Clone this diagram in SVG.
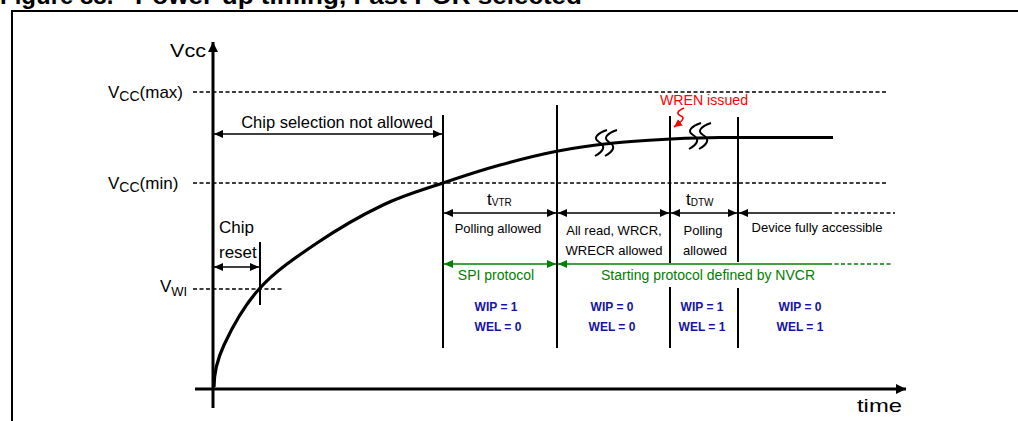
<svg xmlns="http://www.w3.org/2000/svg" width="1018" height="421" viewBox="0 0 1018 421">
<style>
text{font-family:"Liberation Sans",Arial,sans-serif;fill:#000}
.dash{stroke:#000;stroke-width:1.5;stroke-dasharray:4,2.5;fill:none}
.gdash{stroke:#008000;stroke-width:1.5;stroke-dasharray:4,2.5;fill:none}
.vl{stroke:#000;stroke-width:2;fill:none}
.ar{stroke:#000;stroke-width:1.6;fill:none;marker-start:url(#ah);marker-end:url(#ah)}
.gar{stroke:#008000;stroke-width:1.6;fill:none;marker-start:url(#gh);marker-end:url(#gh)}
.lbl{font-size:13px}
.grn{font-size:14px;fill:#008000}
.blu{font-size:12px;font-weight:bold;fill:#1414a0}
.sq{stroke:#000;stroke-width:2;fill:none}
</style>
<defs>
<marker id="ah" markerUnits="userSpaceOnUse" markerWidth="10" markerHeight="10" refX="9" refY="4" orient="auto-start-reverse"><path d="M0,0 L9,4 L0,8 z" fill="#000"/></marker>
<marker id="gh" markerUnits="userSpaceOnUse" markerWidth="10" markerHeight="10" refX="9" refY="4" orient="auto-start-reverse"><path d="M0,0 L9,4 L0,8 z" fill="#008000"/></marker>
<marker id="rh" markerUnits="userSpaceOnUse" markerWidth="10" markerHeight="10" refX="8" refY="4" orient="auto"><path d="M0,0 L8,4 L0,8 z" fill="#ff0000"/></marker>
<marker id="axh" markerUnits="userSpaceOnUse" markerWidth="12" markerHeight="12" refX="10" refY="5" orient="auto"><path d="M0,0 L10,5 L0,10 z" fill="#000"/></marker>
</defs>
<rect width="1018" height="421" fill="#fff"/>
<g id="title">
<text x="0" y="4" font-size="24" font-weight="bold">Figure 88.</text>
<text x="135" y="4" font-size="24" font-weight="bold" textLength="447" lengthAdjust="spacingAndGlyphs">Power-up timing, Fast POR selected</text>
</g>
<path d="M1020,11 H12 V423" fill="none" stroke="#000" stroke-width="2"/>
<g id="axes">
<line x1="213" y1="408" x2="213" y2="42" stroke="#000" stroke-width="3" marker-end="url(#axh)"/>
<line x1="195" y1="389" x2="906" y2="389" stroke="#000" stroke-width="3" marker-end="url(#axh)"/>
<text x="170" y="57" font-size="19" textLength="36" lengthAdjust="spacingAndGlyphs">Vcc</text>
<text x="857" y="412" font-size="19" textLength="45" lengthAdjust="spacingAndGlyphs">time</text>
</g>
<g id="levels">
<line class="dash" x1="193" y1="92" x2="888" y2="92"/>
<line class="dash" x1="193" y1="183" x2="888" y2="183"/>
<line class="dash" x1="193" y1="289" x2="283" y2="289"/>
<text x="108" y="98" font-size="17">V<tspan dy="3" font-size="14">CC</tspan><tspan dy="-3">(max)</tspan></text>
<text x="108" y="189" font-size="17">V<tspan dy="3" font-size="14">CC</tspan><tspan dy="-3">(min)</tspan></text>
<text x="160" y="292" font-size="17">V<tspan dy="4" font-size="13">WI</tspan></text>
</g>
<g id="curve">
<path d="M214,387 C214,375 216.3,361.5 224,345 C231.7,328.5 244.5,305 260,288 C275.5,271 296.5,256.8 317,243 C337.5,229.2 362,215 383,205 C404,195 423.5,189.7 443,183 C462.5,176.3 480.8,170.3 500,165 C519.2,159.7 539,154.7 558,151 C577,147.3 595.2,145 614,143 C632.8,141 653.3,139.9 671,139 C688.7,138.1 704,137.5 720,137.5 L833,137.5" fill="none" stroke="#000" stroke-width="3.2"/>
</g>
<g id="breaks">
<path class="sq" d="M607,130 C598,133 592,138 599,142 C606,146 604,151 595,156"/>
<path class="sq" d="M617,130 C608,133 602,138 609,142 C616,146 614,151 605,156"/>
<path class="sq" d="M701,123 C692,126 686,131 693,135 C700,139 698,144 689,149"/>
<path class="sq" d="M711,123 C702,126 696,131 703,135 C710,139 708,144 699,149"/>
</g>
<g id="wren">
<text x="704" y="105" font-size="14" text-anchor="middle" style="fill:#ff0000" textLength="88" lengthAdjust="spacingAndGlyphs">WREN issued</text>
<path d="M684,108 C677,111 676,114 681,116 C686,118 681,122 674,127" fill="none" stroke="#ff0000" stroke-width="1.6" marker-end="url(#rh)"/>
</g>
<g id="markers">
<line class="vl" x1="443" y1="115" x2="443" y2="348"/>
<line class="vl" x1="557" y1="105" x2="557" y2="348"/>
<line class="vl" x1="670" y1="116" x2="670" y2="263"/>
<line class="vl" x1="670" y1="287" x2="670" y2="348"/>
<line class="vl" x1="738" y1="117" x2="738" y2="262"/>
<line class="vl" x1="738" y1="288" x2="738" y2="348"/>
<line class="vl" x1="260" y1="242" x2="260" y2="305" stroke-width="1.5"/>
</g>
<g id="connectors">
<line class="ar" x1="214" y1="134" x2="442" y2="134"/>
<line class="ar" x1="214" y1="267" x2="259" y2="267"/>
<line class="ar" x1="444" y1="213" x2="556" y2="213"/>
<line class="ar" x1="558" y1="213" x2="669" y2="213"/>
<line class="ar" x1="671" y1="213" x2="737" y2="213"/>
<line x1="828" y1="213" x2="739" y2="213" stroke="#000" stroke-width="1.6" marker-end="url(#ah)"/>
<line class="dash" x1="828" y1="213" x2="895" y2="213"/>
<line class="gar" x1="444" y1="264" x2="556" y2="264"/>
<line x1="828" y1="264" x2="558" y2="264" stroke="#008000" stroke-width="1.6" marker-end="url(#gh)"/>
<line class="gdash" x1="828" y1="264" x2="891" y2="264"/>
</g>
<g id="n-chipsel"><text x="337" y="128" font-size="16.5" text-anchor="middle">Chip selection not allowed</text></g>
<g id="n-chipreset">
<text x="219" y="233" font-size="17">Chip</text>
<text x="219" y="258" font-size="17">reset</text>
</g>
<g id="n-tvtr"><text x="487" y="205" font-size="17">t<tspan font-size="10" dy="1">VTR</tspan></text></g>
<g id="n-tdtw"><text x="686" y="205" font-size="17">t<tspan font-size="10" dy="1">DTW</tspan></text></g>
<g id="n-col1">
<text class="lbl" x="498" y="233" text-anchor="middle">Polling allowed</text>
<text class="grn" x="496" y="280" text-anchor="middle" style="fill:#008000">SPI protocol</text>
<text class="blu" x="496" y="311" text-anchor="middle" style="fill:#1414a0">WIP = 1</text>
<text class="blu" x="498" y="331" text-anchor="middle" style="fill:#1414a0">WEL = 0</text>
</g>
<g id="n-col2">
<text class="lbl" x="614" y="235" text-anchor="middle">All read, WRCR,</text>
<text class="lbl" x="614" y="255" text-anchor="middle">WRECR allowed</text>
<text class="grn" x="708" y="280" text-anchor="middle" style="fill:#008000">Starting protocol defined by NVCR</text>
<text class="blu" x="612" y="311" text-anchor="middle" style="fill:#1414a0">WIP = 0</text>
<text class="blu" x="612" y="331" text-anchor="middle" style="fill:#1414a0">WEL = 0</text>
</g>
<g id="n-col3">
<text class="lbl" x="703" y="235" text-anchor="middle">Polling</text>
<text class="lbl" x="705" y="255" text-anchor="middle">allowed</text>
<text class="blu" x="702" y="311" text-anchor="middle" style="fill:#1414a0">WIP = 1</text>
<text class="blu" x="702" y="331" text-anchor="middle" style="fill:#1414a0">WEL = 1</text>
</g>
<g id="n-col4">
<text class="lbl" x="817" y="232" text-anchor="middle">Device fully accessible</text>
<text class="blu" x="800" y="311" text-anchor="middle" style="fill:#1414a0">WIP = 0</text>
<text class="blu" x="800" y="331" text-anchor="middle" style="fill:#1414a0">WEL = 1</text>
</g>
</svg>
